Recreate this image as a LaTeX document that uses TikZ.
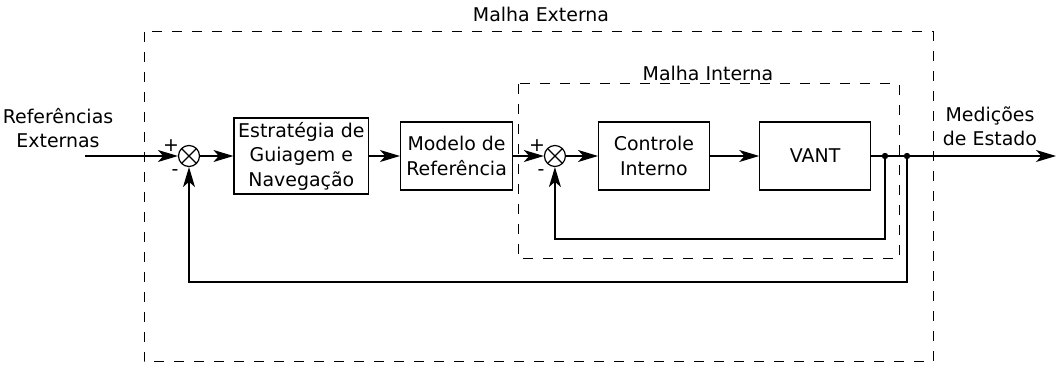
\documentclass[tikz,border=0pt]{standalone}
\usepackage{fontspec}
\setmainfont{DejaVu Sans}
\usetikzlibrary{arrows.meta}
\usetikzlibrary{positioning}
\usetikzlibrary{calc}

\begin{document}
\begin{tikzpicture}[x=0.75pt,y=-0.75pt,->,>={Stealth[length=15pt,width=9pt,inset=4pt]},
  line width=0.9pt,node distance=24pt,font=\fontsize{14.2pt}{18.3pt}\selectfont,
  block/.style={rectangle,draw,align=center,minimum width=84pt,minimum height=51pt,inner sep=3pt},
  sum/.style={circle,draw,minimum size=15.75pt,inner sep=0pt,
    path picture={\draw[-] (path picture bounding box.north west) -- (path picture bounding box.south east)
      (path picture bounding box.south west) -- (path picture bounding box.north east);}},
  malha/.style={-,draw,line width=0.75pt,dash pattern=on 7.5pt off 7.5pt},
  sign/.style={inner sep=0pt}]

  \useasboundingbox (0,0) rectangle (1058,367);

  % malhas externa e interna
  \draw[malha] (144,32) rectangle (933,362);
  \draw[malha] (518,84) rectangle (899,259);
  \node (externa) at (541,14) {Malha Externa};
  \node (interna) at (708,73) {Malha Interna};

  % blocos da cadeia direta
  \node[sum] (sum1) at (189,156) {};
  \node[block,minimum width=101pt,minimum height=57pt] (guia) [right=25pt of sum1] {Estratégia de\\Guiagem e\\Navegação};
  \node[block] (modelo) [right=23pt of guia] {Modelo de\\Referência};
  \node[sum] (sum2) [right=23pt of modelo] {};
  \node[block,minimum width=83pt] (ctrl) [right=of sum2] {Controle\\Interno};
  \node[block,minimum width=83pt] (vant) [right=37pt of ctrl] {VANT};

  \node[sign] (mais1) at ($(sum1)+(-18,-10)$) {+};
  \node[sign] (menos1) at ($(sum1)+(-14,17)$) {-};
  \node[sign] (mais2) at ($(sum2)+(-18,-10)$) {+};
  \node[sign] (menos2) at ($(sum2)+(-14,17)$) {-};

  \coordinate (entrada) at (85,156);
  \coordinate (saida) at (1056,156);
  \coordinate (ramo1) at (885,156);
  \coordinate (ramo2) at (907,156);

  \node[align=center] (refext) at (58,128) {Referências\\Externas};
  \node[align=center] (medicoes) at (990,126) {Medições\\de Estado};

  \draw (entrada) -- (sum1);
  \draw (sum1) -- (guia);
  \draw (guia) -- (modelo);
  \draw (modelo) -- (sum2);
  \draw (sum2) -- (ctrl);
  \draw (ctrl) -- (vant);
  \draw (vant) -- (saida);

  % realimentacoes
  \draw (ramo1) -- ++(0,83) -| (sum2);
  \draw (ramo2) -- ++(0,126) -| (sum1);
  \fill (ramo1) circle (2.4pt);
  \fill (ramo2) circle (2.4pt);
\end{tikzpicture}
\end{document}
